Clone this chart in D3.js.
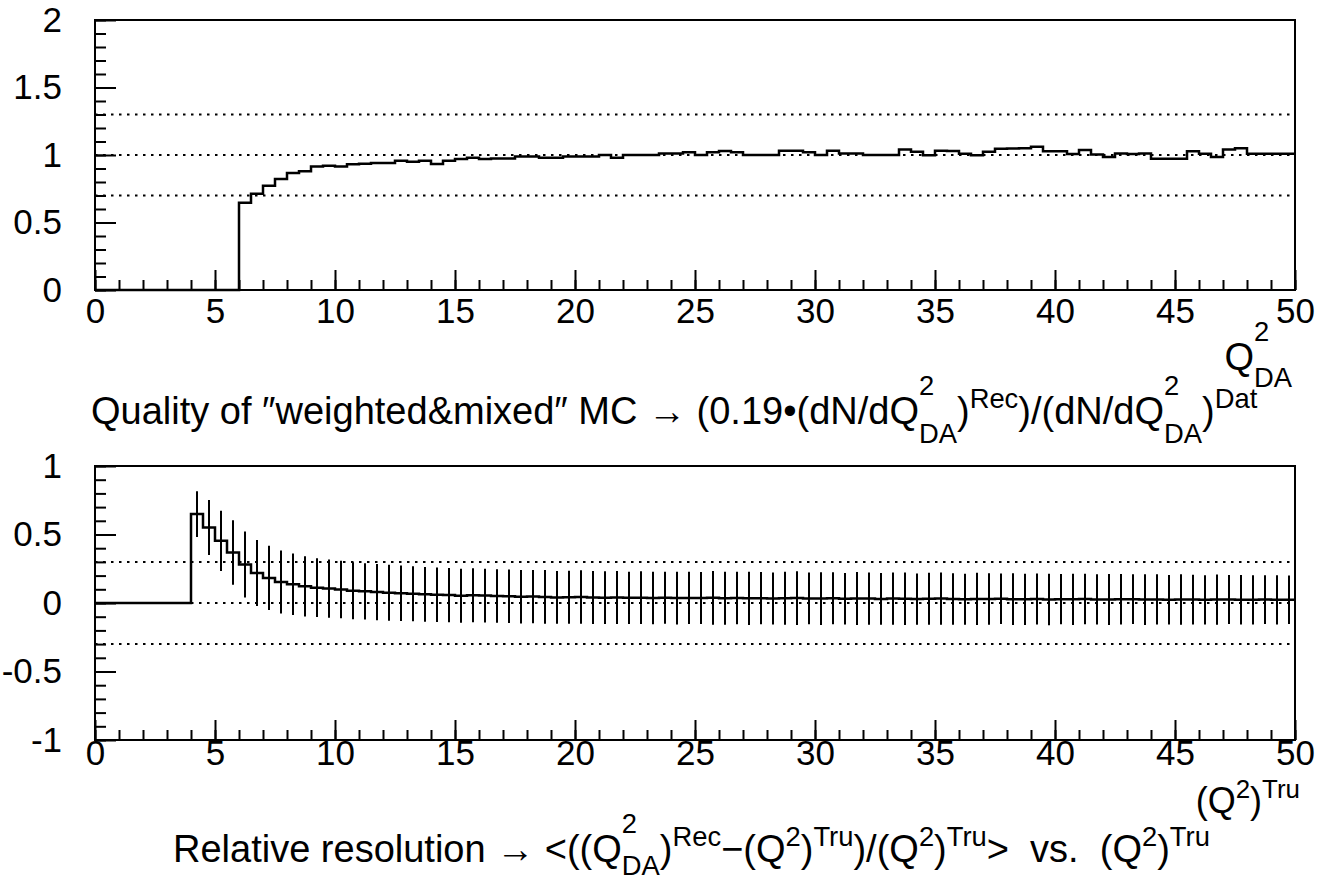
<!DOCTYPE html>
<html>
<head>
<meta charset="utf-8">
<script src="https://cdn.jsdelivr.net/npm/d3@7"></script>
<style>
  body { margin: 0; background: #fff; }
  svg text { white-space: pre; }
</style>
</head>
<body>
<div id="content"></div>
<script>
// bin k covers [k/2, k/2 + 0.5], 100 bins over 0..50
const binEdges = d3.range(0, 50.5, 0.5);

const ratioValues = [
    0, 0, 0, 0, 0, 0, 0, 0, 0, 0,
    0, 0, 0.647, 0.713, 0.773, 0.822, 0.867, 0.879, 0.914, 0.921,
    0.914, 0.931, 0.936, 0.94, 0.94, 0.958, 0.95, 0.958, 0.934, 0.958,
    0.970, 0.980, 0.970, 0.975, 0.975, 0.988, 0.988, 0.980, 0.980, 0.988,
    0.988, 0.988, 1.0, 0.980, 1.0, 1.0, 1.0, 1.012, 1.012, 1.02,
    1.0, 1.02, 1.03, 1.02, 1.0, 1.0, 1.0, 1.032, 1.032, 1.02,
    1.0, 1.032, 1.012, 1.012, 1.0, 1.0, 1.0, 1.04, 1.025, 0.998,
    1.032, 1.03, 1.01, 0.998, 1.025, 1.046, 1.048, 1.05, 1.062, 1.028,
    1.028, 1.007, 1.037, 1.004, 0.986, 1.012, 1.008, 1.012, 0.972, 0.972,
    0.972, 1.027, 1.01, 0.986, 1.041, 1.05, 1.01, 1.01, 1.01, 1.01
];

const resMean = [
    0, 0, 0, 0, 0, 0, 0, 0, 0.649, 0.551,
    0.454, 0.369, 0.281, 0.219, 0.183, 0.154, 0.137, 0.122, 0.112, 0.105,
    0.098, 0.090, 0.085, 0.080, 0.075, 0.071, 0.068, 0.063, 0.061, 0.058,
    0.053, 0.056, 0.054, 0.051, 0.049, 0.046, 0.047, 0.044, 0.041, 0.042,
    0.044, 0.040, 0.039, 0.040, 0.038, 0.039, 0.037, 0.038, 0.036, 0.037,
    0.036, 0.038, 0.035, 0.036, 0.034, 0.035, 0.033, 0.035, 0.036, 0.033,
    0.032, 0.034, 0.031, 0.033, 0.032, 0.030, 0.032, 0.031, 0.029, 0.031,
    0.032, 0.030, 0.028, 0.030, 0.029, 0.031, 0.028, 0.027, 0.029, 0.026,
    0.028, 0.027, 0.029, 0.026, 0.025, 0.027, 0.028, 0.025, 0.026, 0.024,
    0.026, 0.025, 0.023, 0.025, 0.026, 0.024, 0.023, 0.025, 0.023, 0.024
];

const resErr = [
    0, 0, 0, 0, 0, 0, 0, 0, 0.167, 0.2,
    0.22, 0.235, 0.24, 0.24, 0.235, 0.23, 0.225, 0.22, 0.215, 0.213,
    0.21, 0.208, 0.206, 0.205, 0.204, 0.203, 0.201, 0.2, 0.199, 0.198,
    0.197, 0.197, 0.196, 0.196, 0.195, 0.195, 0.194, 0.196, 0.193, 0.194,
    0.195, 0.193, 0.192, 0.194, 0.191, 0.193, 0.192, 0.19, 0.193, 0.191,
    0.19, 0.196, 0.194, 0.192, 0.195, 0.191, 0.19, 0.194, 0.196, 0.189,
    0.192, 0.19, 0.188, 0.193, 0.191, 0.189, 0.19, 0.192, 0.187, 0.189,
    0.191, 0.188, 0.186, 0.19, 0.188, 0.185, 0.189, 0.187, 0.186, 0.188,
    0.184, 0.187, 0.185, 0.183, 0.186, 0.184, 0.182, 0.185, 0.183, 0.181,
    0.184, 0.182, 0.18, 0.183, 0.179, 0.181, 0.18, 0.178, 0.18, 0.177
];

const xMajor = d3.range(0, 51, 5);
const xMinor = d3.range(0, 51, 1);
const yMajorTop = [0, 0.5, 1, 1.5, 2];
const yMinorTop = d3.range(0, 2.01, 0.1);
const yMajorBot = [-1, -0.5, 0, 0.5, 1];
const yMinorBot = d3.range(-1, 1.01, 0.1);
const refTop = [0.7, 1, 1.3];
const refBot = [-0.3, 0, 0.3];

const titleTop = [
    {t: 'Quality of \u2033weighted&mixed\u2033 MC \u2192 (0.19\u2022(dN/dQ'},
    {sup: '2', sub: 'DA'}, {t: ')'}, {sup: 'Rec', low: true},
    {t: ')/(dN/dQ'}, {sup: '2', sub: 'DA'}, {t: ')'}, {sup: 'Dat', low: true}
];
const titleBot = [
    {t: 'Relative resolution \u2192 <((Q'}, {sup: '2', sub: 'DA'}, {t: ')'}, {sup: 'Rec', low: true},
    {t: '\u2212(Q'}, {sup: '2', low: true}, {t: ')'}, {sup: 'Tru', low: true},
    {t: ')/(Q'}, {sup: '2', low: true}, {t: ')'}, {sup: 'Tru', low: true},
    {t: '>  vs.  (Q'}, {sup: '2', low: true}, {t: ')'}, {sup: 'Tru', low: true}
];
const xTitleTop = [{t: 'Q'}, {sup: '2', sub: 'DA'}];
const xTitleBot = [{t: '(Q'}, {sup: '2', low: true}, {t: ')'}, {sup: 'Tru', low: true}];

const FONT = "'Liberation Sans', Arial, Helvetica, sans-serif";
const LABEL_SIZE = 35;
const TITLE_SIZE = 38;

var svg = d3.select('#content')
.append('svg')
.attr('width', 1319)
.attr('height', 883)
.style('font-family', FONT);

svg.append('rect').attr('width', 1319).attr('height', 883).attr('fill', '#fff');

var x = d3.scaleLinear().domain([0, 50]).range([95, 1295]);

function latex(g, px, py, parts, size, anchor, subDrop) {
    var grp = g.append('g');
    var cx = 0;
    var small = size * 0.72;
    parts.forEach(function (p) {
        if (p.t !== undefined) {
            var t = grp.append('text').attr('x', cx).attr('y', 0)
            .attr('font-size', size).text(p.t);
            cx += t.node().getComputedTextLength();
        } else {
            var w = 0;
            if (p.sup) {
                var s = grp.append('text').attr('x', cx)
                .attr('y', -size * (p.low ? 0.42 : 0.76))
                .attr('font-size', small).text(p.sup);
                w = Math.max(w, s.node().getComputedTextLength());
            }
            if (p.sub) {
                var b = grp.append('text').attr('x', cx)
                .attr('y', size * subDrop)
                .attr('font-size', small).text(p.sub);
                w = Math.max(w, b.node().getComputedTextLength());
            }
            cx += w;
        }
    });
    var shift = anchor === 'end' ? -cx : anchor === 'middle' ? -cx / 2 : 0;
    grp.attr('transform', `translate(${px + shift}, ${py})`);
}

function drawPanel(opt) {
    var y = d3.scaleLinear().domain(opt.yDomain).range([opt.bottom, opt.top]);
    var g = svg.append('g');

    // reference lines
    g.selectAll('.ref')
    .data(opt.refs)
    .enter()
    .append('line')
    .attr('x1', x(0)).attr('x2', x(50))
    .attr('y1', d => y(d)).attr('y2', d => y(d))
    .attr('stroke', '#000')
    .attr('stroke-width', 2)
    .attr('stroke-dasharray', '2.5,5.5');

    // error bars
    if (opt.errors) {
        g.selectAll('.err')
        .data(opt.values.map((v, i) => ({v: v, e: opt.errors[i], c: binEdges[i] + 0.25})).filter(d => d.e > 0))
        .enter()
        .append('line')
        .attr('x1', d => x(d.c)).attr('x2', d => x(d.c))
        .attr('y1', d => y(d.v - d.e)).attr('y2', d => y(d.v + d.e))
        .attr('stroke', '#000')
        .attr('stroke-width', 2);
    }

    // histogram steps
    var pts = binEdges.map((e, i) => [e, opt.values[Math.min(i, opt.values.length - 1)]]);
    var line = d3.line().x(d => x(d[0])).y(d => y(d[1])).curve(d3.curveStepAfter);
    g.append('path')
    .attr('d', line(pts))
    .attr('fill', 'none')
    .attr('stroke', '#000')
    .attr('stroke-width', 2.5);

    // axes, ticks pointing inward
    var xMin = d3.axisBottom(x).tickValues(xMinor).tickSizeInner(-10).tickSizeOuter(0).tickFormat('');
    var xMaj = d3.axisBottom(x).tickValues(xMajor).tickSizeInner(-20).tickSizeOuter(0)
    .tickPadding(opt.xPad).tickFormat(d => String(d));
    var yMin = d3.axisLeft(y).tickValues(opt.yMinor).tickSizeInner(-11).tickSizeOuter(0).tickFormat('');
    var yMaj = d3.axisLeft(y).tickValues(opt.yMajor).tickSizeInner(-21).tickSizeOuter(0)
    .tickPadding(33).tickFormat(d => String(d));

    [xMin, xMaj].forEach(function (a) {
        g.append('g')
        .attr('transform', 'translate(0, ' + opt.bottom + ')')
        .call(a);
    });
    [yMin, yMaj].forEach(function (a) {
        g.append('g')
        .attr('transform', 'translate(' + x(0) + ', 0)')
        .call(a);
    });
    g.selectAll('.domain').remove();
    g.selectAll('.tick line').attr('stroke', '#000').attr('stroke-width', 2);
    g.selectAll('.tick text')
    .attr('font-family', FONT)
    .attr('font-size', LABEL_SIZE)
    .attr('fill', '#000');

    g.append('rect')
    .attr('x', x(0)).attr('y', opt.top)
    .attr('width', x(50) - x(0)).attr('height', opt.bottom - opt.top)
    .attr('fill', 'none')
    .attr('stroke', '#000')
    .attr('stroke-width', 2);

    latex(g, opt.xTitlePos[0], opt.xTitlePos[1], opt.xTitle, opt.xTitleSize, 'end', 0.45);
    latex(g, opt.titlePos[0], opt.titlePos[1], opt.title, opt.titleSize, 'start', opt.subDrop);
}

drawPanel({
    values: ratioValues,
    yDomain: [0, 2], top: 20, bottom: 290,
    yMajor: yMajorTop, yMinor: yMinorTop, refs: refTop,
    xPad: 8,
    xTitle: xTitleTop, xTitlePos: [1292, 370], xTitleSize: 38,
    title: titleTop, titlePos: [91, 424], titleSize: TITLE_SIZE, subDrop: 0.5
});

drawPanel({
    values: resMean, errors: resErr,
    yDomain: [-1, 1], top: 466, bottom: 740,
    yMajor: yMajorBot, yMinor: yMinorBot, refs: refBot,
    xPad: 0,
    xTitle: xTitleBot, xTitlePos: [1300, 813], xTitleSize: 36,
    title: titleBot, titlePos: [173, 862], titleSize: TITLE_SIZE, subDrop: 0.33
});
</script>
</body>
</html>
